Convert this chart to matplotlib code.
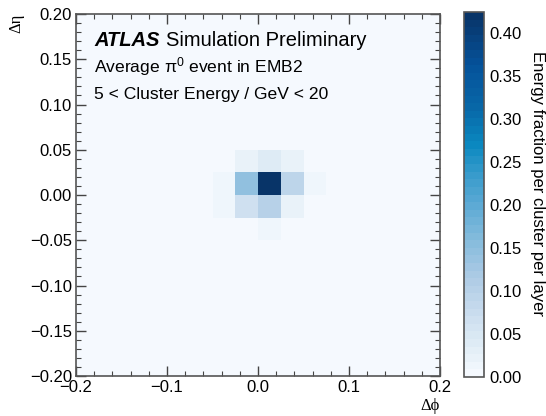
'''
Average pi0 event in EMB2 - energy fraction per cluster per layer
'''

# Libraries.
import numpy as np
import matplotlib
matplotlib.use('Agg')
import matplotlib.pyplot as plt
from matplotlib.colors import LinearSegmentedColormap

''' ============================== DATA ============================== '''

# Bin edges in delta phi and delta eta (EMB2 cell size 0.025).
phi_edges = np.linspace(-0.2, 0.2, 17)
eta_edges = np.linspace(-0.2, 0.2, 17)

# Non-empty cells: (phi column, eta row, energy fraction).
cell_phi = [7, 8, 9,
            6, 7, 8, 9, 10,
            6, 7, 8, 9, 10,
            6, 7, 8, 9, 10,
            7, 8, 9]
cell_eta = [10, 10, 10,
            9, 9, 9, 9, 9,
            8, 8, 8, 8, 8,
            7, 7, 7, 7, 7,
            6, 6, 6]
cell_val = [0.003, 0.004, 0.003,
            0.004, 0.020, 0.042, 0.020, 0.003,
            0.010, 0.150, 0.424, 0.095, 0.012,
            0.010, 0.062, 0.100, 0.018, 0.004,
            0.004, 0.010, 0.003]

# Colour scale.
cmap_pos = [0.0, 0.07, 0.15, 0.26, 0.37, 0.48, 0.55, 0.64, 0.74, 0.86, 1.0]
cmap_col = ['#f5f9fe', '#e2eef6', '#cfe0f0', '#b0cce6', '#86bcdc', '#58a8d4',
            '#3a9ccc', '#0a88c0', '#0868a8', '#05529a', '#083468']
z_max = 0.424

''' ============================== PLOT ============================== '''

grid = np.zeros((16, 16))
for c, r, v in zip(cell_phi, cell_eta, cell_val):
    grid[r, c] = v

cmap = LinearSegmentedColormap.from_list('atlas_blues', list(zip(cmap_pos, cmap_col)), N=48)

plt.rcParams['font.family'] = ['Liberation Sans', 'DejaVu Sans']
plt.rcParams['font.size'] = 12

fig = plt.figure(figsize=(5.46, 4.16), dpi=100)
ax = fig.add_axes([76/546, 40/416, 364/546, 362/416])
cax = fig.add_axes([464/546, 39/416, 20/546, 365/416])

mesh = ax.pcolormesh(phi_edges, eta_edges, grid, cmap=cmap, vmin=0, vmax=z_max)
ax.set_xlim(-0.2, 0.2)
ax.set_ylim(-0.2, 0.2)
ax.set_xticks(np.arange(-0.2, 0.21, 0.1))
ax.set_xticks(np.arange(-0.2, 0.21, 0.02), minor=True)
ax.set_yticks(np.arange(-0.2, 0.21, 0.05))
ax.set_yticks(np.arange(-0.2, 0.21, 0.01), minor=True)
ax.set_xticklabels(['\u22120.2', '\u22120.1', '0.0', '0.1', '0.2'])
ax.set_yticklabels([('\u2212' if t < -1e-9 else '') + '%.2f' % abs(t)
                    for t in np.arange(-0.2, 0.21, 0.05)])
ax.tick_params(which='both', direction='in', top=True, right=True,
               color='#444444', labelsize=12, pad=3)
ax.tick_params(which='major', length=7, width=1)
ax.tick_params(which='minor', length=3.5, width=0.8)
for s in ax.spines.values():
    s.set_color('#555555')
    s.set_linewidth(1.2)

ax.set_xlabel('\u0394\u03d5', family=['Liberation Serif', 'DejaVu Serif'],
              fontsize=12, loc='right', labelpad=2)
ax.set_ylabel('\u0394\u03b7', family=['Liberation Serif', 'DejaVu Serif'],
              fontsize=12, loc='top', labelpad=4)

# Labels inside the frame.
ax.text(0.05, 0.912, 'ATLAS', transform=ax.transAxes, fontsize=14.5,
        fontweight='bold', fontstyle='italic', va='baseline')
ax.text(0.247, 0.912, 'Simulation Preliminary', transform=ax.transAxes,
        fontsize=14.5, va='baseline')
ax.text(0.05, 0.840, 'Average $\\mathregular{\\pi^0}$ event in EMB2',
        transform=ax.transAxes, fontsize=12.6, va='baseline')
ax.text(0.05, 0.765, '5 < Cluster Energy / GeV < 20', transform=ax.transAxes,
        fontsize=12.6, va='baseline')

cb = fig.colorbar(mesh, cax=cax)
cb.set_ticks(np.arange(0, 0.41, 0.05))
cb.ax.tick_params(length=0, labelsize=12, pad=4)
cb.outline.set_edgecolor('#555555')
cb.outline.set_linewidth(1.2)
cb.set_label('Energy fraction per cluster per layer', rotation=-90,
             fontsize=12, va='center')
cb.ax.yaxis.set_label_coords(3.65, 0.53)

fig.savefig('out.png', dpi=100)
